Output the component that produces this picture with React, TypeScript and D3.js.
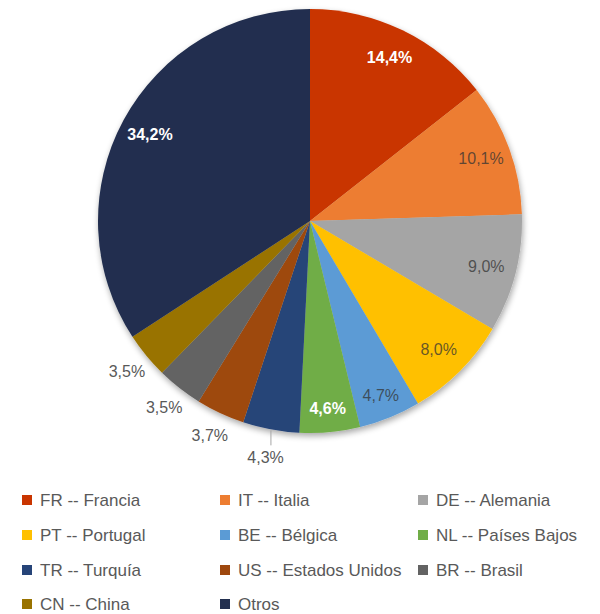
import React from "react";
import * as d3 from "d3";

const categories = ["FR -- Francia", "IT -- Italia", "DE -- Alemania", "PT -- Portugal", "BE -- Bélgica", "NL -- Países Bajos", "TR -- Turquía", "US -- Estados Unidos", "BR -- Brasil", "CN -- China", "Otros"];
const values = [14.4, 10.1, 9.0, 8.0, 4.7, 4.6, 4.3, 3.7, 3.5, 3.5, 34.2];
const labels = ["14,4%", "10,1%", "9,0%", "8,0%", "4,7%", "4,6%", "4,3%", "3,7%", "3,5%", "3,5%", "34,2%"];
const colors = ["#C93500", "#ED7D31", "#A5A5A5", "#FFC000", "#5B9BD5", "#70AD47", "#264478", "#9E480E", "#636363", "#997300", "#222F4F"];
// label placement: "in-white", "in-dark", "out", "out-leader"
const labelStyle = ["in-white", "in-dark", "in-dark", "in-dark", "in-dark", "in-white", "out-leader", "out", "out", "out", "in-white"];

const W = 600, H = 614;
const cx = 310, cy = 221, R = 212;

export default function App() {
  const pie = d3.pie<number>().sort(null).value((d) => d)(values);
  const arc = d3.arc<d3.PieArcDatum<number>>().innerRadius(0).outerRadius(R);
  const font = "'Liberation Sans', Arial, sans-serif";
  const legendX = [22, 220, 418];
  const legendY = [500, 535, 570, 604];

  return (
    <svg width={W} height={H} style={{ position: "absolute", left: 0, top: 0, background: "#fff" }}>
      <defs>
        <filter id="sh" x="-10%" y="-10%" width="120%" height="120%">
          <feGaussianBlur in="SourceAlpha" stdDeviation="3" />
          <feOffset dx="1" dy="3" result="b" />
          <feComponentTransfer><feFuncA type="linear" slope="0.35" /></feComponentTransfer>
          <feMerge><feMergeNode /><feMergeNode in="SourceGraphic" /></feMerge>
        </filter>
      </defs>
      <g transform={`translate(${cx},${cy})`}>
        <g filter="url(#sh)">
          {pie.map((p, i) => (
            <path key={i} d={arc(p) || ""} fill={colors[i]} />
          ))}
        </g>
        {pie.map((p, i) => {
          const mid = (p.startAngle + p.endAngle) / 2;
          const st = labelStyle[i];
          const r = st.startsWith("in") ? (p.value < 6 ? 188 : 182) : st === "out-leader" ? 241 : 237;
          const x = Math.sin(mid) * r;
          const y = -Math.cos(mid) * r;
          const fill = st === "in-white" ? "#ffffff" : st === "in-dark" ? "#333333" : "#595959";
          const op = st === "in-dark" ? 0.75 : 1;
          const weight = st === "in-white" ? "bold" : "normal";
          return (
            <g key={i}>
              {st === "out-leader" && (
                <line x1={Math.sin(mid) * R} y1={-Math.cos(mid) * R + 1} x2={Math.sin(mid) * R} y2={-Math.cos(mid) * R + 16} stroke="#a6a6a6" strokeWidth={1} />
              )}
              <text x={x} y={y} textAnchor="middle" dominantBaseline="central" fontFamily={font} fontSize={16} fontWeight={weight} fill={fill} fillOpacity={op}>
                {labels[i]}
              </text>
            </g>
          );
        })}
      </g>
      {categories.map((c, i) => {
        const col = i % 3, row = Math.floor(i / 3);
        const x = legendX[col], y = legendY[row];
        return (
          <g key={c}>
            <rect x={x} y={y - 5} width={10} height={10} fill={colors[i]} />
            <text x={x + 18} y={y} dominantBaseline="central" fontFamily={font} fontSize={17} fill="#595959">
              {c}
            </text>
          </g>
        );
      })}
    </svg>
  );
}
